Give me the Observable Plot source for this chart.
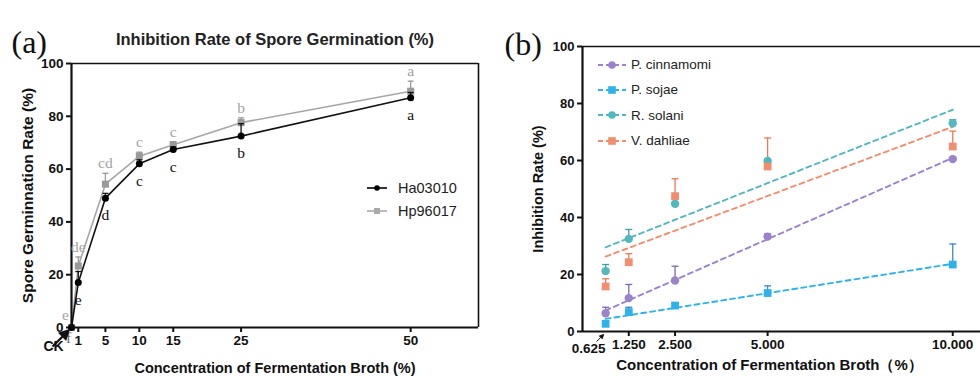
<!DOCTYPE html>
<html><head><meta charset="utf-8">
<script src="https://cdn.jsdelivr.net/npm/d3@7"></script>
<script src="https://cdn.jsdelivr.net/npm/@observablehq/plot@0.6"></script>
<style>
body{margin:0;background:#fff;}
#wrap{position:relative;width:980px;height:378px;overflow:hidden;font-family:"Liberation Sans",Arial,sans-serif;}
.panel{position:absolute;top:0;}
.legend{position:absolute;color:#222;}
.legend .row{display:flex;align-items:center;}
.legend svg{display:block;}
</style></head><body>
<div id="wrap">
  <div id="pa" class="panel" style="left:0"></div>
  <div id="pb" class="panel" style="left:490px"></div>
  <div id="lega" class="legend" style="left:366px;top:176px;font-size:14.5px;"></div>
  <div id="legb" class="legend" style="left:597px;top:52px;font-size:13.5px;"></div>
</div>
<script>
// ---------- Panel (a) data ----------
const concA = [0, 1, 5, 10, 15, 25, 50];
const ticksA = [1, 5, 10, 15, 25, 50];
const ha03010 = [0, 17, 49, 62, 67.4, 72.5, 87];
const ha03010Err = [0, 4.2, 1.8, 1.5, 1, 4.7, 2];
const hp96017 = [0, 23.3, 54.3, 64.9, 69.2, 77.6, 89.5];
const hp96017Err = [0, 3.4, 4.1, 1.5, 1.2, 1.8, 3.8];
const lettersHa = ["f", "e", "d", "c", "c", "b", "a"];
const lettersHp = ["e", "de", "cd", "c", "c", "b", "a"];
const seriesA = ["Ha03010", "Hp96017"];

// ---------- Panel (b) data ----------
const concB = [0.625, 1.25, 2.5, 5, 10];
const ticksB = [1.25, 2.5, 5, 10];
const seriesB = ["P. cinnamomi", "P. sojae", "R. solani", "V. dahliae"];
const pCinnamomi = [6.4, 11.7, 17.9, 33.3, 60.5];
const pCinnamomiErr = [2.1, 4.8, 5, 1, 0.5];
const pSojae = [2.7, 6.8, 9.1, 13.5, 23.5];
const pSojaeErr = [0, 1.7, 0.8, 2.5, 7.2];
const rSolani = [21.2, 32.5, 44.8, 59.8, 73.1];
const rSolaniErr = [2.3, 3.3, 2.3, 0.5, 1.2];
const vDahliae = [15.8, 24.3, 47.5, 57.9, 64.9];
const vDahliaeErr = [2.7, 3, 6.1, 10, 5.4];

// ---------- styles ----------
const colA = {Ha03010: "#111", Hp96017: "#a6a6a6"};
const markA = {Ha03010: "#000", Hp96017: "#9a9a9a"};
const colB = {"P. cinnamomi": "#9b83cc", "P. sojae": "#2db3ea", "R. solani": "#52b8c0", "V. dahliae": "#f28e6e"};
const errColB = {"P. cinnamomi": "#7c6ab6", "P. sojae": "#3f86d6", "R. solani": "#3f9fa8", "V. dahliae": "#ee7a55"};
const symB = {"P. cinnamomi": "circle", "P. sojae": "square", "R. solani": "circle", "V. dahliae": "square"};

const capSym = w => ({draw(ctx) { ctx.moveTo(-w, 0); ctx.lineTo(w, 0); }});
const arrowSym = (L, h, w) => ({draw(ctx) {
  const s = Math.SQRT1_2;
  ctx.moveTo(-L, L); ctx.lineTo(-h * s, h * s);
  ctx.moveTo(0, 0);
  ctx.lineTo(-h * s + w * s, h * s + w * s);
  ctx.lineTo(-h * s - w * s, h * s - w * s);
  ctx.closePath();
}});

const rowsA = (name, vals, errs, letters) => concA.map((x, i) => ({x, y: vals[i], top: vals[i] + errs[i], err: errs[i], letter: letters[i], name}));
const ha = rowsA("Ha03010", ha03010, ha03010Err, lettersHa);
const hp = rowsA("Hp96017", hp96017, hp96017Err, lettersHp);

const rowsB = (name, vals, errs) => concB.map((x, i) => ({x, y: vals[i], top: vals[i] + errs[i], err: errs[i], name}));
const dataB = [
  ...rowsB("P. cinnamomi", pCinnamomi, pCinnamomiErr),
  ...rowsB("P. sojae", pSojae, pSojaeErr),
  ...rowsB("R. solani", rSolani, rSolaniErr),
  ...rowsB("V. dahliae", vDahliae, vDahliaeErr)
];

const font = "Liberation Sans, Arial, sans-serif";
const serif = "Liberation Serif, Times New Roman, serif";

// ---------- Panel (a) ----------
const plotA = Plot.plot({
  width: 490, height: 378,
  marginLeft: 71, marginRight: 12, marginTop: 63, marginBottom: 51,
  style: {fontFamily: font, background: "white", color: "#111"},
  x: {domain: [0, 60]},
  y: {domain: [0, 100]},
  marks: [
    Plot.axisX({ticks: ticksA, tickSize: 5, tickPadding: 3, fontSize: 13.5, fontWeight: "bold", strokeWidth: 2, label: null, tickFormat: d => d}),
    Plot.axisY({ticks: [0, 20, 40, 60, 80, 100], tickSize: 5, tickPadding: 3, fontSize: 13.5, fontWeight: "bold", strokeWidth: 2, label: null}),
    Plot.ruleY([100], {stroke: "#111", strokeWidth: 1.6}),
    Plot.ruleX([60], {stroke: "#111", strokeWidth: 1.6}),
    // Hp96017 (gray)
    Plot.ruleX(hp.filter(d => d.err > 0), {x: "x", y1: "y", y2: "top", stroke: "#9a9a9a", strokeWidth: 1.3}),
    Plot.dot(hp.filter(d => d.err > 0), {x: "x", y: "top", symbol: capSym(3), stroke: "#9a9a9a", strokeWidth: 1.3, fill: "none"}),
    Plot.line(hp, {x: "x", y: "y", stroke: colA.Hp96017, strokeWidth: 1.6}),
    Plot.dot(hp, {x: "x", y: "y", symbol: "square", r: 4, fill: markA.Hp96017}),
    // Ha03010 (black)
    Plot.ruleX(ha.filter(d => d.err > 0), {x: "x", y1: "y", y2: "top", stroke: "#111", strokeWidth: 1.3}),
    Plot.dot(ha.filter(d => d.err > 0), {x: "x", y: "top", symbol: capSym(3), stroke: "#111", strokeWidth: 1.3, fill: "none"}),
    Plot.line(ha, {x: "x", y: "y", stroke: colA.Ha03010, strokeWidth: 1.6}),
    Plot.dot(ha, {x: "x", y: "y", r: 3.5, fill: markA.Ha03010}),
    Plot.ruleY([0], {stroke: "#111", strokeWidth: 2.2}),
    Plot.ruleX([0], {stroke: "#111", strokeWidth: 2.2}),
    // significance letters
    Plot.text(hp.filter(d => d.x > 0), {x: "x", y: "top", text: "letter", dy: -10, fill: "#a3a3a3", fontFamily: serif, fontSize: 15.5}),
    Plot.text(ha.filter(d => d.x > 0), {x: "x", y: "y", text: "letter", dy: 17, fill: "#111", fontFamily: serif, fontSize: 15.5}),
    Plot.text(hp.filter(d => d.x === 0), {x: "x", y: "top", text: "letter", dx: -6, dy: -12, fill: "#a3a3a3", fontFamily: serif, fontSize: 15.5}),
    Plot.text(ha.filter(d => d.x === 0), {x: "x", y: "y", text: "letter", dx: -3, dy: 11, fill: "#666", fontFamily: serif, fontSize: 15.5}),
    // CK label + arrow
    Plot.dot([concA[0]], {x: d => d, frameAnchor: "bottom", symbol: arrowSym(16, 8, 4), fill: "#111", stroke: "#111", strokeWidth: 2.2, dx: -3, dy: 3}),
    Plot.text([concA[0]], {x: d => d, frameAnchor: "bottom", text: () => "CK", dx: -18, dy: 23, fontSize: 14, fontWeight: "bold"}),
    // titles
    Plot.text(["Inhibition Rate of Spore Germination (%)"], {frameAnchor: "top", dy: -30, fontSize: 16.5, fontWeight: "bold", fill: "#222"}),
    Plot.text(["(a)"], {frameAnchor: "top-left", textAnchor: "start", dx: -60, dy: -33, fontSize: 32, fontFamily: serif, fill: "#111"}),
    Plot.text(["Concentration of Fermentation Broth (%)"], {frameAnchor: "bottom", dy: 45, fontSize: 14.5, fontWeight: "bold"}),
    Plot.text(["Spore Germinnation Rate (%)"], {frameAnchor: "left", textAnchor: "middle", dx: -43, rotate: -90, fontSize: 15.5, fontWeight: "bold"})
  ]
});
document.getElementById("pa").append(plotA);

// ---------- Panel (b) ----------
const plotB = Plot.plot({
  width: 490, height: 378,
  marginLeft: 92, marginRight: 0, marginTop: 46, marginBottom: 47,
  style: {fontFamily: font, background: "white", color: "#111"},
  x: {domain: [0, 10.75]},
  y: {domain: [0, 100]},
  color: {domain: seriesB, range: seriesB.map(s => colB[s])},
  marks: [
    Plot.axisX({ticks: ticksB, tickSize: 5, tickPadding: 3, fontSize: 13.5, fontWeight: "bold", strokeWidth: 2, label: null, tickFormat: d3.format(".3f")}),
    Plot.axisY({ticks: [0, 20, 40, 60, 80, 100], tickSize: 5, tickPadding: 3, fontSize: 13, fontWeight: "bold", strokeWidth: 2, label: null}),
    Plot.ruleY([100], {stroke: "#111", strokeWidth: 1.6}),
    Plot.linearRegressionY(dataB, {x: "x", y: "y", z: "name", stroke: "name", ci: 0, strokeWidth: 1.9, strokeDasharray: "5,4"}),
    Plot.ruleX(dataB.filter(d => d.err > 0), {x: "x", y1: "y", y2: "top", stroke: d => errColB[d.name], strokeWidth: 1.3}),
    Plot.dot(dataB.filter(d => d.err > 0), {x: "x", y: "top", symbol: capSym(3.5), stroke: d => errColB[d.name], strokeWidth: 1.3, fill: "none"}),
    Plot.dot(dataB.filter(d => symB[d.name] === "circle"), {x: "x", y: "y", r: 4.2, fill: "name", symbol: "circle"}),
    Plot.dot(dataB.filter(d => symB[d.name] === "square"), {x: "x", y: "y", r: 4.4, fill: "name", symbol: "square"}),
    Plot.ruleY([0], {stroke: "#111", strokeWidth: 2.2}),
    Plot.ruleX([0], {stroke: "#111", strokeWidth: 2.2}),
    Plot.dot([concB[0]], {x: d => d, frameAnchor: "bottom", symbol: arrowSym(7, 4, 2), fill: "#111", stroke: "#111", strokeWidth: 1, dx: -2, dy: 3}),
    Plot.text([concB[0]], {x: d => d, frameAnchor: "bottom", text: d => d3.format(".3f")(d), dx: -17, dy: 21, fontSize: 13.5, fontWeight: "bold"}),
    Plot.text(["(b)"], {frameAnchor: "top-left", textAnchor: "start", dx: -78, dy: -14, fontSize: 32, fontFamily: serif, fill: "#111"}),
    Plot.text(["Concentration of Fermentation Broth（%）"], {frameAnchor: "bottom", dx: -12, dy: 38, fontSize: 15, fontWeight: "bold"}),
    Plot.text(["Inhibition Rate (%)"], {frameAnchor: "left", textAnchor: "middle", dx: -44, rotate: -90, fontSize: 14.5, fontWeight: "bold"})
  ]
});
document.getElementById("pb").append(plotB);

// ---------- Legends ----------
function swatch(w, color, symbol, dashed, size) {
  const svg = d3.create("svg").attr("width", w).attr("height", 16);
  svg.append("line").attr("x1", 1).attr("x2", w - 1).attr("y1", 8).attr("y2", 8)
    .attr("stroke", color).attr("stroke-width", dashed ? 1.9 : 1.6).attr("stroke-dasharray", dashed ? "5,3" : null);
  if (symbol === "circle") svg.append("circle").attr("cx", w / 2).attr("cy", 8).attr("r", size).attr("fill", color);
  else svg.append("rect").attr("x", w / 2 - size).attr("y", 8 - size).attr("width", 2 * size).attr("height", 2 * size).attr("fill", color);
  return svg.node();
}
const lega = d3.select("#lega");
seriesA.forEach(s => {
  const row = lega.append("div").attr("class", "row").style("height", "23px");
  row.node().append(swatch(22, s === "Ha03010" ? "#000" : "#aaa", s === "Ha03010" ? "circle" : "square", false, s === "Ha03010" ? 2.8 : 3));
  row.append("span").style("margin-left", "10px").text(s);
});
const legb = d3.select("#legb");
seriesB.forEach(s => {
  const row = legb.append("div").attr("class", "row").style("height", "25.3px");
  row.node().append(swatch(30, colB[s], symB[s], true, 3.8));
  row.append("span").style("margin-left", "4px").text(s);
});
</script>
</body></html>
